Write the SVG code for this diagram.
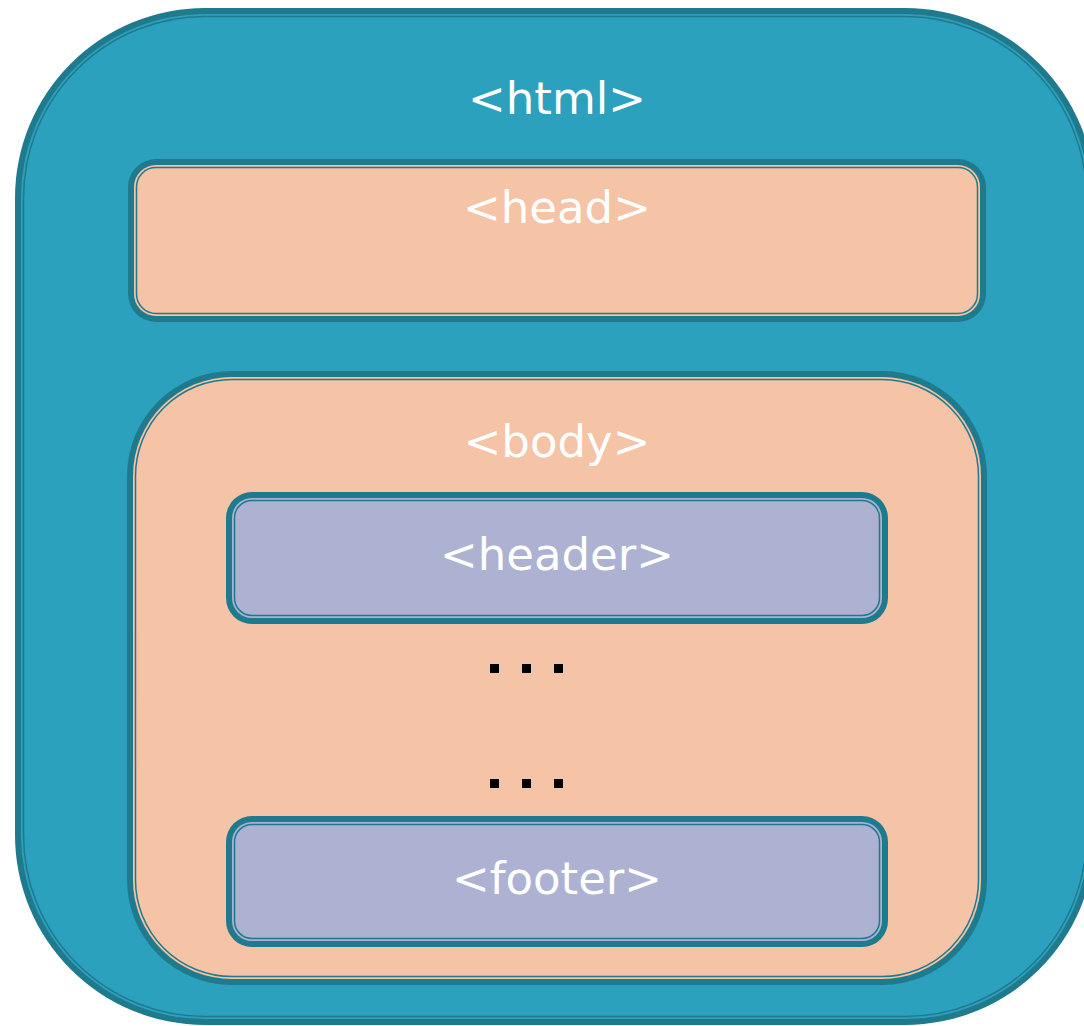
<svg xmlns="http://www.w3.org/2000/svg" width="1084" height="1026" viewBox="0 0 1084 1026">
  <style>
    .dk { fill: #1f7a8d; }
    .ln { stroke: #1f7a8d; stroke-width: 1.5; }
    .blue { fill: #2ca1be; }
    .peach { fill: #f5c3a5; }
    .lav { fill: #adb2d2; }
    .lbl { font-family: "DejaVu Sans", "Liberation Sans", sans-serif; font-size: 45px; fill: #ffffff; text-anchor: middle; }
    .dot { fill: #000000; }
  </style>
  <rect x="0" y="0" width="1084" height="1026" fill="#ffffff"/>
  <g id="html">
    <rect class="dk" x="15" y="8" width="1080" height="1017" rx="190"/>
    <rect class="blue" x="21" y="14" width="1068" height="1005" rx="184"/>
    <rect class="blue ln" x="23.5" y="16.5" width="1063" height="1000" rx="181.5"/>
    <text class="lbl" x="557" y="114">&lt;html&gt;</text>
  </g>
  <g id="head">
    <rect class="dk" x="128" y="159" width="858" height="163" rx="28"/>
    <rect class="peach" x="134" y="165" width="846" height="151" rx="22"/>
    <rect class="peach ln" x="136.5" y="167.5" width="841" height="146" rx="19.5"/>
    <text class="lbl" x="557" y="223">&lt;head&gt;</text>
  </g>
  <g id="body">
    <rect class="dk" x="127" y="371" width="860" height="614" rx="105"/>
    <rect class="peach" x="133" y="377" width="848" height="602" rx="99"/>
    <rect class="peach ln" x="135.5" y="379.5" width="843" height="597" rx="96.5"/>
    <text class="lbl" x="557" y="457">&lt;body&gt;</text>
  </g>
  <g id="header">
    <rect class="dk" x="226" y="492" width="662" height="132" rx="26"/>
    <rect class="lav" x="232" y="498" width="650" height="120" rx="20"/>
    <rect class="lav ln" x="234.5" y="500.5" width="645" height="115" rx="17.5"/>
    <text class="lbl" x="557" y="570">&lt;header&gt;</text>
  </g>
  <g id="dots">
    <rect class="dot" x="490" y="664" width="9" height="9"/>
    <rect class="dot" x="522" y="664" width="9" height="9"/>
    <rect class="dot" x="554" y="664" width="9" height="9"/>
    <rect class="dot" x="490" y="779" width="9" height="9"/>
    <rect class="dot" x="522" y="779" width="9" height="9"/>
    <rect class="dot" x="554" y="779" width="9" height="9"/>
  </g>
  <g id="footer">
    <rect class="dk" x="226" y="816" width="662" height="131" rx="26"/>
    <rect class="lav" x="232" y="822" width="650" height="119" rx="20"/>
    <rect class="lav ln" x="234.5" y="824.5" width="645" height="114" rx="17.5"/>
    <text class="lbl" x="557" y="894">&lt;footer&gt;</text>
  </g>
  <g id="connectors"/>
</svg>
